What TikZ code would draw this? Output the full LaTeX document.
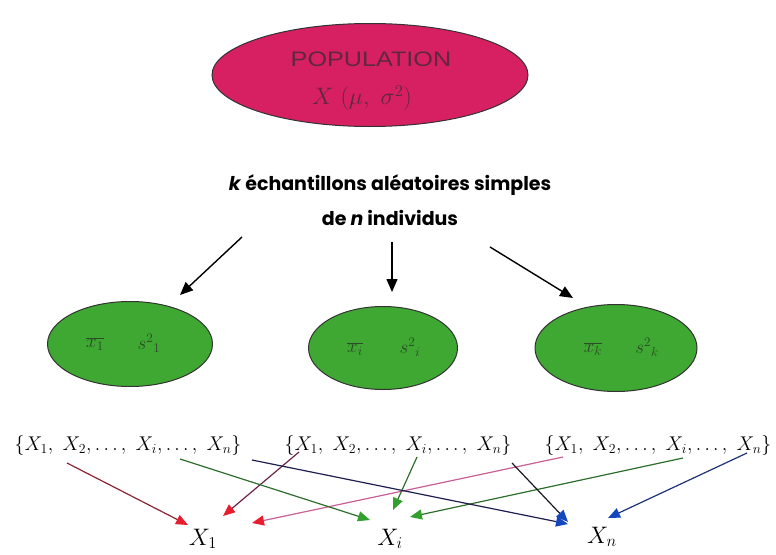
\documentclass[tikz,border=0pt]{standalone}
\usepackage{fontspec}
\usepackage{graphicx}
\usetikzlibrary{arrows.meta,shapes.geometric}
\newfontfamily\hdrfont{Poppins}
\newfontfamily\popfont{Liberation Sans}
\definecolor{popfill}{RGB}{214,32,98}
\definecolor{popink}{RGB}{95,40,60}
\definecolor{grfill}{RGB}{62,168,50}
\definecolor{grink}{RGB}{45,75,40}
\definecolor{lnred}{RGB}{140,35,55}
\definecolor{lnred2}{RGB}{110,35,70}
\definecolor{lnmag}{RGB}{200,95,150}
\definecolor{lngreen}{RGB}{45,110,45}
\definecolor{lnnavy}{RGB}{30,30,80}
\definecolor{lnblack}{RGB}{25,25,35}
\definecolor{lnblue}{RGB}{30,50,120}
\definecolor{tipred}{RGB}{230,30,45}
\definecolor{tipgreen}{RGB}{50,160,45}
\definecolor{tipblue}{RGB}{20,70,190}
\newcommand{\setlist}{\scalebox{1.15}{$\{X_1,\ X_2,\ldots,\ X_i,\ldots,\ X_n\}$}}
\tikzset{
  popell/.style={ellipse, draw=black!80, line width=1pt, fill=popfill, minimum width=316pt, minimum height=103pt, inner sep=0pt},
  grell/.style={ellipse, draw=black!80, line width=1pt, fill=grfill, inner sep=0pt},
  grtext/.style={text=grink, font=\fontsize{17.28}{20}\selectfont, inner sep=0pt},
  hdr/.style={font=\hdrfont\bfseries\fontsize{19}{22}\selectfont, inner sep=0pt},
  settext/.style={font=\fontsize{17.28}{21}\selectfont, inner sep=0pt},
  xtext/.style={font=\fontsize{20.74}{25}\selectfont, inner sep=0pt},
  bigarrow/.style={line width=1.4pt, -{Triangle[length=13pt,width=11pt]}},
  redarrow/.style={line width=1.2pt, -{Triangle[length=12pt,width=10pt,color=tipred]}},
  greenarrow/.style={line width=1.2pt, lngreen, -{Triangle[length=12pt,width=10pt,color=tipgreen]}},
  bluearrow/.style={line width=1.2pt, -{Triangle[length=12pt,width=10pt,color=tipblue]}},
}
\begin{document}
\begin{tikzpicture}[x=1pt,y=-1pt]
\useasboundingbox (0,0) rectangle (776,554);
\fill[white] (0,0) rectangle (776,554);

% population
\node[popell] (pop) at (370,75) {};
\node[text=popink, font=\popfont\fontsize{21}{24}\selectfont, inner sep=0pt] (poptitle) at (371,59) {\scalebox{1.2}[1]{POPULATION}};
\node[text=popink, font=\fontsize{20.74}{25}\selectfont, inner sep=0pt] (popparam) at (362,98) {\scalebox{1.15}{$X\ (\mu,\ \sigma^2)$}};

% header
\node[hdr] (hd1) at (390,185) {\textit{k} échantillons aléatoires simples};
\node[hdr] (hd2) at (390,218) {de \textit{n} individus};

% samples
\node[grell, minimum width=165pt, minimum height=85pt] (g1) at (130,344) {};
\node[grell, minimum width=149pt, minimum height=83pt] (g2) at (383,348) {};
\node[grell, minimum width=162pt, minimum height=87pt] (g3) at (616,348) {};
\node[grtext] (m1) at (95,344) {\scalebox{1.1}{$\overline{x_1}$}};
\node[grtext] (v1) at (149,343) {\scalebox{1.1}{$s^{2}{}_{1}$}};
\node[grtext] (m2) at (355,349) {\scalebox{1.1}{$\overline{x_i}$}};
\node[grtext] (v2) at (410,347) {\scalebox{1.1}{$s^{2}{}_{i}$}};
\node[grtext] (m3) at (593,349) {\scalebox{1.1}{$\overline{x_k}$}};
\node[grtext] (v3) at (647,347) {\scalebox{1.1}{$s^{2}{}_{k}$}};

\draw[bigarrow] ([shift={(-148,19)}]hd2.center) -- ([shift={(50,-49)}]g1.center);
\draw[bigarrow] ([shift={(2,24)}]hd2.center) -- ([shift={(9,-56)}]g2.center);
\draw[bigarrow] ([shift={(100,29)}]hd2.center) -- ([shift={(-43,-50)}]g3.center);

% sets
\node[settext] (s1) at (128,446) {\setlist};
\node[settext] (s2) at (398,446) {\setlist};
\node[settext] (s3) at (658,446) {\setlist};

\node[xtext] (x1) at (203,539) {\scalebox{1.15}{$X_1$}};
\node[xtext] (xi) at (390,539) {\scalebox{1.15}{$X_i$}};
\node[xtext] (xn) at (602,537) {\scalebox{1.15}{$X_n$}};

% connectors
\draw[redarrow, lnred] ([shift={(-61,17)}]s1.center) -- ([shift={(-15,-14)}]x1.center);
\draw[redarrow, lnred2] ([shift={(-99,6)}]s2.center) -- ([shift={(20,-23)}]x1.center);
\draw[redarrow, lnmag] ([shift={(-95,11)}]s3.center) -- ([shift={(49,-16)}]x1.center);
\draw[greenarrow] ([shift={(52,13)}]s1.center) -- ([shift={(-20,-19)}]xi.center);
\draw[greenarrow] ([shift={(19,11)}]s2.center) -- ([shift={(3,-29)}]xi.center);
\draw[greenarrow] ([shift={(25,12)}]s3.center) -- ([shift={(20,-22)}]xi.center);
\draw[bluearrow, lnnavy] ([shift={(124,14)}]s1.center) -- ([shift={(-34,-13)}]xn.center);
\draw[bluearrow, lnblack] ([shift={(114,17)}]s2.center) -- ([shift={(-34,-15)}]xn.center);
\draw[bluearrow, lnblue] ([shift={(89,7)}]s3.center) -- ([shift={(6,-19)}]xn.center);
\end{tikzpicture}
\end{document}
